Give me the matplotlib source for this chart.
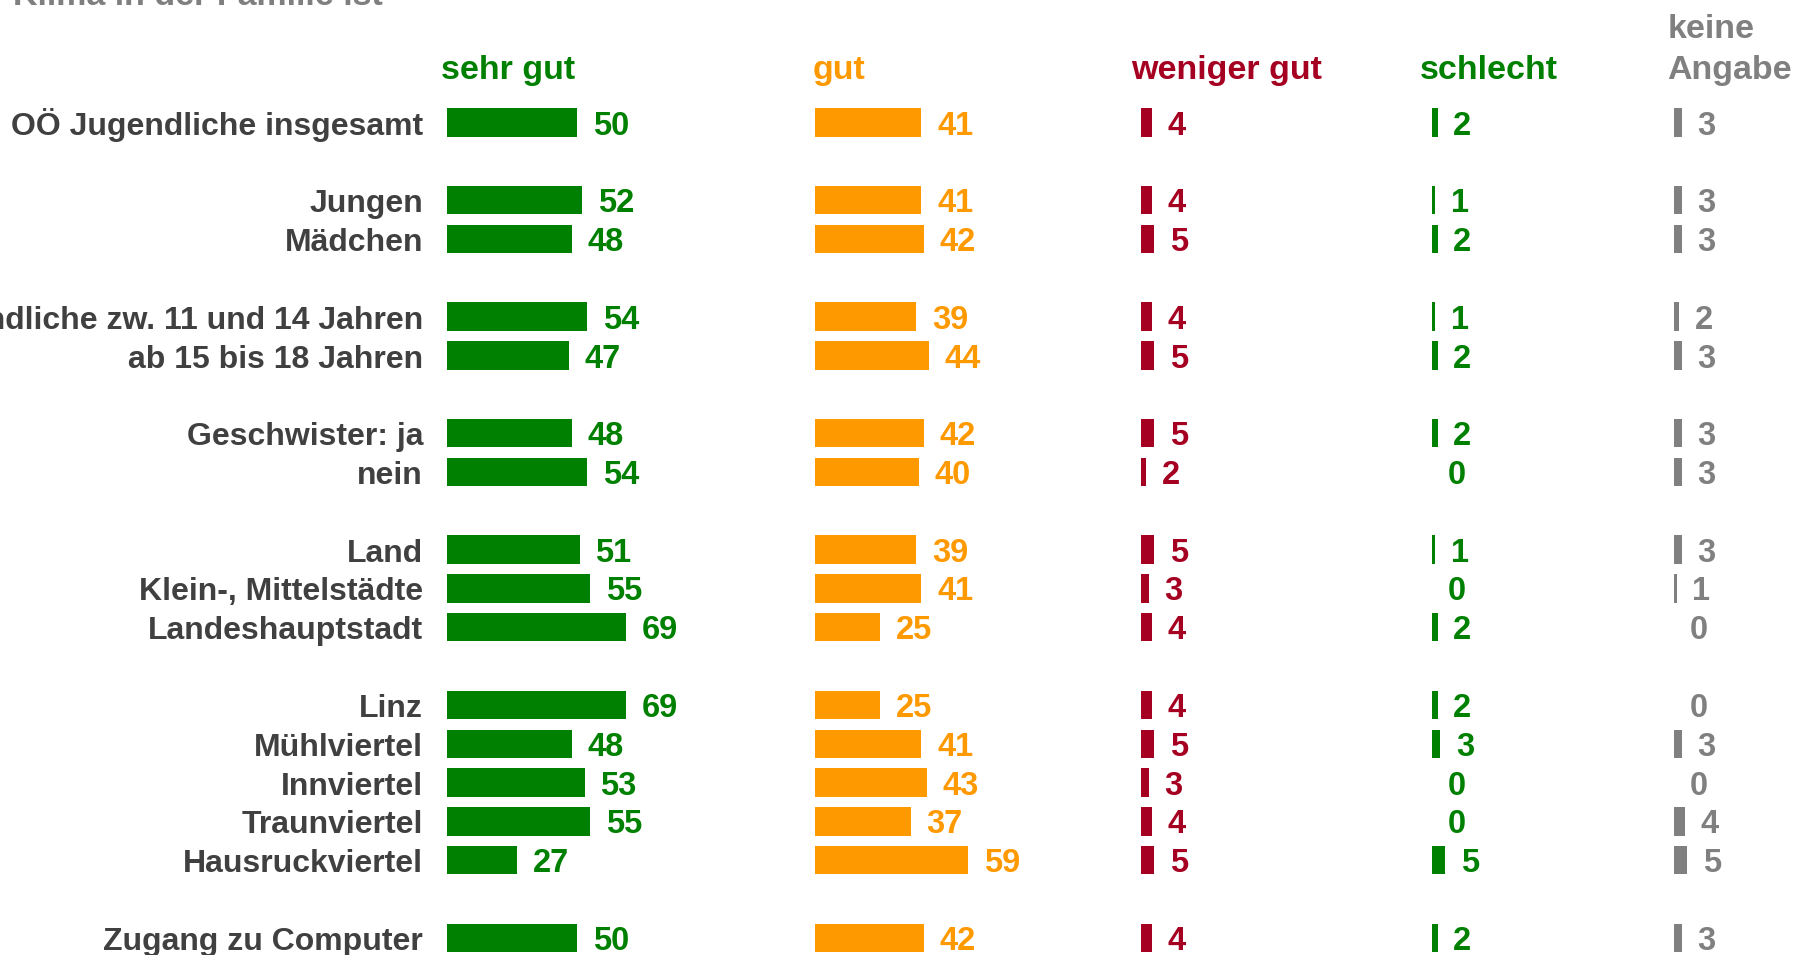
import numpy as np
import matplotlib
matplotlib.use("Agg")
import matplotlib.pyplot as plt

plt.rcParams['font.family'] = ['Liberation Sans', 'DejaVu Sans']
plt.rcParams['font.weight'] = 'bold'

# Survey: family climate by group (percent)
labels = ["OÖ Jugendliche insgesamt",
          "Jungen", "Mädchen",
          "Jugendliche zw. 11 und 14 Jahren", "ab 15 bis 18 Jahren",
          "Geschwister: ja", "nein",
          "Land", "Klein-, Mittelstädte", "Landeshauptstadt",
          "Linz", "Mühlviertel", "Innviertel", "Traunviertel", "Hausruckviertel",
          "Zugang zu Computer"]
group_sizes = [1, 2, 2, 2, 3, 5, 1]

sehr_gut = [50, 52, 48, 54, 47, 48, 54, 51, 55, 69, 69, 48, 53, 55, 27, 50]
gut = [41, 41, 42, 39, 44, 42, 40, 39, 41, 25, 25, 41, 43, 37, 59, 42]
weniger_gut = [4, 4, 5, 4, 5, 5, 2, 5, 3, 4, 4, 5, 3, 4, 5, 4]
schlecht = [2, 1, 2, 1, 2, 2, 0, 1, 0, 2, 2, 3, 0, 0, 5, 2]
keine_angabe = [3, 3, 3, 2, 3, 3, 3, 3, 1, 0, 0, 3, 0, 4, 5, 3]

headers = ["sehr gut", "gut", "weniger gut", "schlecht", "keine\nAngabe"]
colors = ["#008000", "#FF9900", "#A50021", "#008000", "#808080"]
series = [sehr_gut, gut, weniger_gut, schlecht, keine_angabe]

# column layout (x in percentage points, each column starts at its own origin)
col_origin = [0, 141.5, 267.0, 379.0, 472.0]
header_x = [-2.3, 140.8, 263.1, 374.0, 469.4]

# rows: one empty row between groups
rows = []
pos = 0
for n in group_sizes:
    rows.extend(range(pos, pos + n))
    pos += n + 1
rows = np.array(rows)

W, H = 1798, 955
px_per_pct = 2.6
row_px = 38.83
row0_px = 122.5
text_dy = 0.31  # baseline offset below the bar centre, in rows

fig = plt.figure(figsize=(W / 100, H / 100), dpi=100)
ax = fig.add_axes([0, 0, 1, 1])
ax.set_xlim(-447 / px_per_pct, (W - 447) / px_per_pct)
ax.set_ylim((H - row0_px) / row_px, -row0_px / row_px)
ax.axis('off')

for vals, c0, col in zip(series, col_origin, colors):
    vals = np.array(vals)
    ax.barh(rows, vals, left=c0, height=0.73, color=col, edgecolor='none')
    for r, v in zip(rows, vals):
        ax.text(c0 + v + 6, r + text_dy, str(v), color=col, fontsize=23.5,
                fontweight='bold', ha='left', va='baseline')

for r, lab in zip(rows, labels):
    ax.text(-9.2, r + text_dy, lab, color='#404040', fontsize=23,
            fontweight='bold', ha='right', va='baseline')

for hx, h, col in zip(header_x, headers, colors):
    ax.text(hx, -0.95, h, color=col, fontsize=24.5, fontweight='bold',
            ha='left', va='bottom', linespacing=1.38)

ax.text(-167, -3.026, "Klima in der Familie ist", color='#7F7F7F',
        fontsize=24.5, fontweight='bold', ha='left', va='baseline')

fig.savefig("out.png", dpi=100)
